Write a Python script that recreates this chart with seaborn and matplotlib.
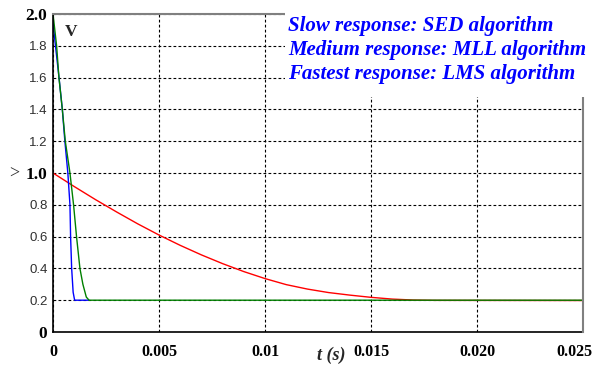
import numpy as np
import pandas as pd
import matplotlib
matplotlib.use("Agg")
import matplotlib.pyplot as plt
import matplotlib.transforms as mtransforms
from matplotlib.patches import Rectangle
import seaborn as sns

# ---- data ----
t_sed = [0.0, 0.001, 0.002, 0.003, 0.004, 0.005, 0.006, 0.007, 0.008, 0.009,
         0.010, 0.011, 0.012, 0.013, 0.014, 0.015, 0.016, 0.017, 0.018, 0.025]
v_sed = [1.0, 0.915, 0.833, 0.755, 0.68, 0.61, 0.545, 0.485, 0.43, 0.38,
         0.336, 0.298, 0.27, 0.248, 0.232, 0.218, 0.207, 0.201, 0.199, 0.198]

t_lms = [0.0, 0.0001, 0.0003, 0.00044, 0.00056, 0.0007, 0.0008, 0.00083, 0.00088, 0.00095, 0.00102, 0.0017]
v_lms = [1.95, 1.82, 1.58, 1.4, 1.2, 1.0, 0.8, 0.6, 0.4, 0.25, 0.2, 0.2]

t_mll = [0.0, 0.00017, 0.00028, 0.00044, 0.00058, 0.0008, 0.00097, 0.00111, 0.00127, 0.00141, 0.00157, 0.0017, 0.025]
v_mll = [2.0, 1.8, 1.6, 1.4, 1.2, 1.0, 0.8, 0.6, 0.4, 0.3, 0.22, 0.2, 0.2]

series_names = ["SED", "LMS", "MLL"]
series_colors = ["#ff0000", "#0000ff", "#008000"]

x_ticks = [0, 0.005, 0.01, 0.015, 0.020, 0.025]
x_tick_labels = ["0", "0.005", "0.01", "0.015", "0.020", "0.025"]
y_ticks = [0, 0.2, 0.4, 0.6, 0.8, 1.0, 1.2, 1.4, 1.6, 1.8, 2.0]
y_tick_labels = ["0", "0.2", "0.4", "0.6", "0.8", "1.0", "1.2", "1.4", "1.6", "1.8", "2.0"]
bold_y_labels = ["0", "1.0", "2.0"]

legend_lines = ["Slow response: SED algorithm",
                "Medium response: MLL algorithm",
                "Fastest response: LMS algorithm"]

df = pd.concat([
    pd.DataFrame({"t": t_sed, "v": v_sed, "alg": "SED"}),
    pd.DataFrame({"t": t_lms, "v": v_lms, "alg": "LMS"}),
    pd.DataFrame({"t": t_mll, "v": v_mll, "alg": "MLL"}),
], ignore_index=True)

sns.set_style("white")
plt.rcParams['font.family'] = ['Liberation Serif', 'DejaVu Sans']

W, H = 593, 366
fig = plt.figure(figsize=(W / 100, H / 100), dpi=100)
ax = fig.add_axes([53 / W, 1 - 332 / H, 530 / W, 318 / H])

sns.lineplot(data=df, x="t", y="v", hue="alg", hue_order=series_names,
             palette=dict(zip(series_names, series_colors)), ax=ax,
             linewidth=1.0, legend=False, estimator=None, sort=False)

ax.set_xlim(0, 0.025)
ax.set_ylim(0, 2.0)
ax.set_xticks(x_ticks)
ax.set_xticklabels(x_tick_labels)
ax.set_yticks(y_ticks)
ax.set_yticklabels(y_tick_labels)
ax.set_xlabel("")
ax.set_ylabel("")

ax.grid(True, color="black", linestyle=(0, (2.5, 2)), linewidth=0.8)
ax.tick_params(axis="both", length=0)
ax.tick_params(axis="y", pad=4)
ax.tick_params(axis="x", pad=9)

for side in ["left", "bottom"]:
    ax.spines[side].set_color("black")
    ax.spines[side].set_linewidth(1.2)
for side in ["top", "right"]:
    ax.spines[side].set_color("#808080")
    ax.spines[side].set_linewidth(1.5)
    ax.spines[side].set_zorder(3)

for lab in ax.get_yticklabels():
    if lab.get_text() in bold_y_labels:
        lab.set_fontfamily("Liberation Serif")
        lab.set_fontweight("bold")
        lab.set_fontsize(12.5)
        lab.set_color("black")
    else:
        lab.set_fontfamily("Liberation Sans")
        lab.set_fontsize(9.5)
        lab.set_color("#303030")

for lab in ax.get_xticklabels():
    lab.set_fontfamily("Liberation Serif")
    lab.set_fontweight("bold")
    lab.set_fontsize(11.5)
    lab.set_color("black")
last = ax.get_xticklabels()[-1]
last.set_transform(last.get_transform() + mtransforms.ScaledTranslation(-9 / 100, 0, fig.dpi_scale_trans))

fig.text(331 / W, 1 - 355 / H, "t (s)", ha="center", va="center",
         fontsize=13, fontweight="bold", style="italic", family="Liberation Serif")
ax.text(0.022, 0.97, "V", transform=ax.transAxes, ha="left", va="top",
        fontsize=12.5, fontweight="bold", family="Liberation Serif")
fig.text(14 / W, 1 - 174 / H, ">", ha="center", va="center", fontsize=13,
         family="Liberation Serif", color="#303030")

# legend-like white box with blue text
fig.patches.append(Rectangle((285 / W, 1 - 97 / H), 1 - 285 / W, 97 / H,
                             transform=fig.transFigure, facecolor="white",
                             edgecolor="none", zorder=2))
for i, line in enumerate(legend_lines):
    fig.text(288 / W, 1 - (31 + 24.2 * i) / H, line, ha="left", va="baseline",
             fontsize=15, fontweight="bold", style="italic", color="#0000ff",
             family="Liberation Serif", zorder=3)

fig.savefig("out.png", dpi=100, facecolor="white")
